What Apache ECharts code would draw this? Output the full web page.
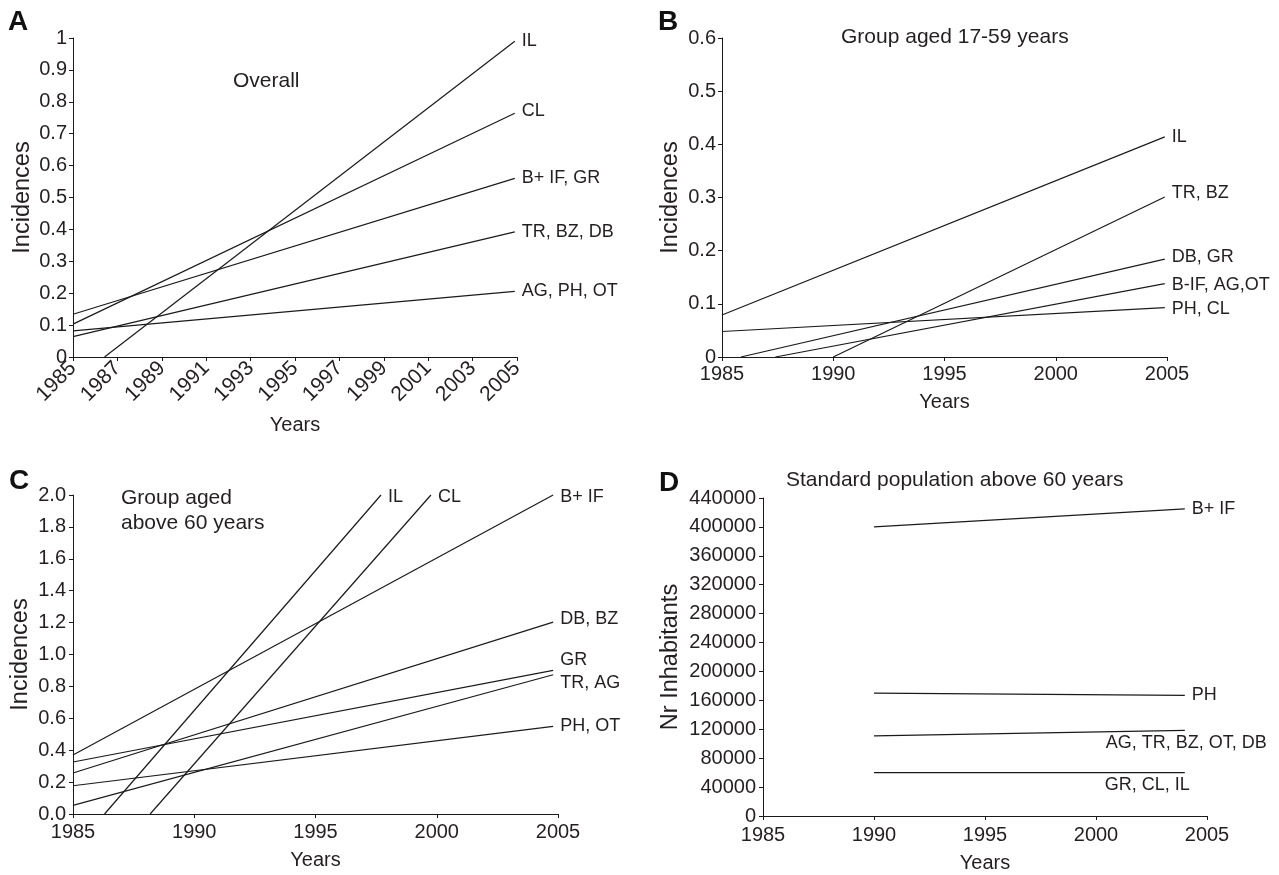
<!DOCTYPE html>
<html><head><meta charset="utf-8">
<script src="https://cdn.jsdelivr.net/npm/echarts@6/dist/echarts.min.js"></script>
<style>html,body{margin:0;padding:0;background:#fff}#c{width:1279px;height:875px}</style>
</head><body><div id="c"></div>
<script>
// ---------- Panel A : Overall ----------
const namesA = ['IL', 'CL', 'B+ IF, GR', 'TR, BZ, DB', 'AG, PH, OT'];
const startA = [[1986.42, 0], [1985, 0.103], [1985, 0.134], [1985, 0.064], [1985, 0.082]];
const endA   = [[2004.9, 0.99], [2004.9, 0.764], [2004.9, 0.56], [2004.9, 0.392], [2004.9, 0.206]];

// ---------- Panel B : Group aged 17-59 years ----------
const namesB = ['IL', 'TR, BZ', 'DB, GR', 'B-IF, AG,OT', 'PH, CL'];
const startB = [[1985, 0.079], [1990, 0], [1985.85, 0], [1987.4, 0], [1985, 0.048]];
const endB   = [[2004.9, 0.414], [2004.9, 0.301], [2004.9, 0.184], [2004.9, 0.138], [2004.9, 0.093]];

// ---------- Panel C : Group aged above 60 years ----------
const namesC = ['IL', 'CL', 'B+ IF', 'DB, BZ', 'GR', 'TR, AG', 'PH, OT'];
const startC = [[1986.3, 0], [1988.18, 0], [1985, 0.37], [1985, 0.257], [1985, 0.326], [1985, 0.054], [1985, 0.177]];
const endC   = [[1997.7, 2.0], [1999.76, 2.0], [2004.8, 2.0], [2004.8, 1.203], [2004.8, 0.90], [2004.8, 0.873], [2004.8, 0.549]];

// ---------- Panel D : Standard population above 60 years ----------
const namesD = ['B+ IF', 'PH', 'AG, TR, BZ, OT, DB', 'GR, CL, IL'];
const startD = [[1990, 400000], [1990, 170000], [1990, 111000], [1990, 60000]];
const endD   = [[2004, 425000], [2004, 167000], [2004, 118500], [2004, 60000]];

// tick labels / axis ranges
const xTicksA = { min: 1985, max: 2005, interval: 2 };
const xTicksBCD = { min: 1985, max: 2005, interval: 5 };
const yTicksA = { min: 0, max: 1, interval: 0.1 };
const yTicksB = { min: 0, max: 0.6, interval: 0.1 };
const yTicksC = { min: 0, max: 2.0, interval: 0.2 };
const yTicksD = { min: 0, max: 440000, interval: 40000 };

// ---------- styling ----------
const FONT = "'Liberation Sans', Arial, Helvetica, sans-serif";
const INK = '#1a1a1a';
const TXT = '#231f20';
const labelShift = { // end-label offsets (px), per panel and label
  'A|CL': [0, -2],
  'B|TR, BZ': [0, -4], 'B|DB, GR': [0, -2], 'B|B-IF, AG,OT': [0, 1], 'B|PH, CL': [0, 1],
  'C|IL': [0, 2], 'C|CL': [0, 2], 'C|B+ IF': [0, 2], 'C|DB, BZ': [0, -3],
  'C|GR': [0, -10], 'C|TR, AG': [0, 8],
  'D|AG, TR, BZ, OT, DB': [-86, 13], 'D|GR, CL, IL': [-87, 12]
};

const grids = [
  { left: 73, top: 38, width: 444, height: 319 },
  { left: 722, top: 38, width: 445, height: 319 },
  { left: 73, top: 495, width: 485, height: 319 },
  { left: 763, top: 498, width: 444, height: 318 }
];

function xAxis(idx, ticks, rotate, margin, nameGap, size) {
  return {
    type: 'value', gridIndex: idx, min: ticks.min, max: ticks.max, interval: ticks.interval,
    name: 'Years', nameLocation: 'middle', nameGap: nameGap,
    nameTextStyle: { fontFamily: FONT, fontSize: 20, color: TXT },
    axisLine: { show: true, onZero: false, lineStyle: { color: INK, width: 1 } },
    axisTick: { show: true, inside: false, length: 4, lineStyle: { color: INK } },
    splitLine: { show: false },
    axisLabel: { fontFamily: FONT, fontSize: size, color: TXT, rotate: rotate, margin: margin,
      formatter: v => String(v), showMinLabel: true, showMaxLabel: true, hideOverlap: false }
  };
}
function yAxis(idx, ticks, name, nameGap, fmt, margin) {
  return {
    type: 'value', gridIndex: idx, min: ticks.min, max: ticks.max, interval: ticks.interval,
    name: name, nameLocation: 'middle', nameGap: nameGap,
    nameTextStyle: { fontFamily: FONT, fontSize: 23.5, color: TXT },
    axisLine: { show: true, onZero: false, lineStyle: { color: INK, width: 1 } },
    axisTick: { show: true, inside: false, length: 4, lineStyle: { color: INK } },
    splitLine: { show: false },
    axisLabel: { fontFamily: FONT, fontSize: 20, color: TXT, margin: margin, formatter: fmt,
      showMinLabel: true, showMaxLabel: true, hideOverlap: false }
  };
}

function makeSeries(panel, idx, names, starts, ends) {
  return names.map((n, i) => ({
    type: 'line', name: n, xAxisIndex: idx, yAxisIndex: idx,
    data: [starts[i], ends[i]],
    symbol: 'none', silent: true, animation: false, clip: false,
    lineStyle: { color: INK, width: 1.2 },
    endLabel: {
      show: true, formatter: n, fontFamily: FONT, fontSize: 18, color: TXT,
      distance: 7, offset: labelShift[panel + '|' + n] || [0, 0]
    }
  }));
}

const titleStyle = (size, bold) => ({ fontFamily: FONT, fontSize: size, color: bold ? '#111' : TXT, fontWeight: bold ? 'bold' : 'normal' });

const option = {
  animation: false,
  backgroundColor: '#fff',
  title: [
    { text: 'A', left: 8, top: 8, padding: 0, textStyle: titleStyle(28, true) },
    { text: 'B', left: 658, top: 8, padding: 0, textStyle: titleStyle(28, true) },
    { text: 'C', left: 9, top: 467, padding: 0, textStyle: titleStyle(28, true) },
    { text: 'D', left: 659, top: 469, padding: 0, textStyle: titleStyle(28, true) },
    { text: 'Overall', left: 233, top: 71, padding: 0, textStyle: titleStyle(21) },
    { text: 'Group aged 17-59 years', left: 841, top: 27, padding: 0, textStyle: titleStyle(21) },
    { text: 'Group aged\nabove 60 years', left: 121, top: 486, padding: 0,
      textStyle: Object.assign(titleStyle(21), { lineHeight: 25 }) },
    { text: 'Standard population above 60 years', left: 786, top: 470, padding: 0, textStyle: titleStyle(21) }
  ],
  grid: grids,
  xAxis: [
    xAxis(0, xTicksA, 45, 8, 58, 21),
    xAxis(1, xTicksBCD, 0, 7, 35, 20),
    xAxis(2, xTicksBCD, 0, 8, 36, 20),
    xAxis(3, xTicksBCD, 0, 9, 37, 20)
  ],
  yAxis: [
    yAxis(0, yTicksA, 'Incidences', 38, v => String(v), 6),
    yAxis(1, yTicksB, 'Incidences', 39, v => String(v), 6),
    yAxis(2, yTicksC, 'Incidences', 40, v => v.toFixed(1), 7),
    yAxis(3, yTicksD, 'Nr Inhabitants', 80, v => String(v), 7)
  ],
  series: [].concat(
    makeSeries('A', 0, namesA, startA, endA),
    makeSeries('B', 1, namesB, startB, endB),
    makeSeries('C', 2, namesC, startC, endC),
    makeSeries('D', 3, namesD, startD, endD)
  )
};

const chart = echarts.init(document.getElementById('c'), null, { renderer: 'canvas' });
chart.setOption(option);
</script>
</body></html>
